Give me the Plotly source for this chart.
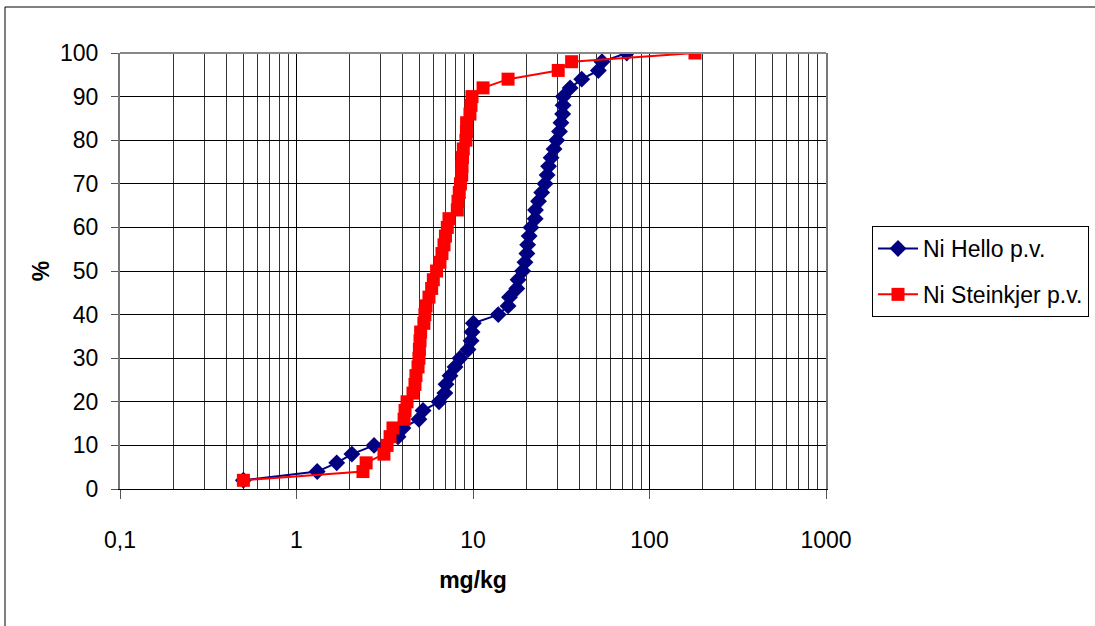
import plotly.graph_objects as go

pct = list(range(2, 101, 2))

hello_x = [0.5, 1.31, 1.69, 2.06, 2.75, 3.76, 4.01, 4.94, 5.21, 6.42,
           6.93, 7.03, 7.41, 7.91, 8.44, 9.37, 9.75, 9.87, 10.04, 13.9,
           15.8, 16.1, 17.7, 18.0, 19.1, 19.7, 20.2, 20.4, 20.8, 21.3,
           22.5, 22.6, 23.5, 24.5, 25.6, 26.3, 26.8, 27.7, 28.8, 29.8,
           30.9, 31.5, 32.2, 32.4, 32.5, 35.5, 41.3, 51.3, 53.8, 74.3]

steinkjer_x = [0.5, 2.38, 2.48, 3.13, 3.26, 3.39, 3.52, 4.07, 4.12, 4.23,
               4.57, 4.69, 4.75, 4.88, 4.94, 4.97, 5.01, 5.05, 5.27, 5.34,
               5.42, 5.63, 5.83, 5.96, 6.22, 6.50, 6.67, 6.85, 6.98, 7.15,
               7.31, 8.15, 8.22, 8.36, 8.49, 8.63, 8.66, 8.72, 8.81, 9.12,
               9.18, 9.20, 9.61, 9.74, 9.87, 11.4, 15.8, 30.4, 36.2, 181]

x_tickvals = [0.1, 1, 10, 100, 1000]
x_ticktext = ["0,1", "1", "10", "100", "1000"]
y_tickvals = list(range(0, 101, 10))

FONT = "Liberation Sans, Arial, sans-serif"

fig = go.Figure()
fig.add_trace(go.Scatter(
    x=hello_x, y=pct, mode="lines+markers", name="Ni Hello p.v.",
    legendgroup="a",
    line=dict(color="#000080", width=2),
    marker=dict(symbol="diamond", size=13, color="#000080"),
))
fig.add_trace(go.Scatter(
    x=steinkjer_x, y=pct, mode="lines+markers", name="Ni Steinkjer p.v.",
    legendgroup="b",
    line=dict(color="#FF0000", width=2),
    marker=dict(symbol="square", size=13, color="#FF0000"),
))

L, R, T, B = 120, 826, 53, 489
W, H = 1095, 626
pw, ph = R - L, B - T

fig.update_layout(
    width=W, height=H,
    margin=dict(l=L, r=W - R, t=T, b=H - B, pad=0, autoexpand=False),
    paper_bgcolor="white", plot_bgcolor="white",
    font=dict(family=FONT, size=23, color="black"),
    showlegend=True,
    legend=dict(
        x=(872 - L) / pw, y=(B - 226) / ph, xanchor="left", yanchor="top",
        bordercolor="black", borderwidth=1, bgcolor="white",
        font=dict(family=FONT, size=23, color="black"),
        itemwidth=40, tracegroupgap=13,
    ),
    xaxis=dict(
        type="log", range=[-1, 3],
        tickvals=x_tickvals, ticktext=x_ticktext,
        showgrid=True, gridcolor="black", gridwidth=1,
        minor=dict(showgrid=True, gridcolor="#333333", gridwidth=1,
                   tickvals=[m * 10 ** e for e in range(-1, 3) for m in range(2, 10)]),
        showline=True, linecolor="black", linewidth=1,
        ticks="outside", ticklen=9, tickcolor="#555555",
        ticklabelstandoff=21,
        tickfont=dict(family=FONT, size=23),
        title=dict(text="<b>mg/kg</b>", font=dict(family=FONT, size=23), standoff=20),
        zeroline=False,
    ),
    yaxis=dict(
        range=[0, 100], tickvals=y_tickvals,
        showgrid=True, gridcolor="black", gridwidth=1,
        showline=True, linecolor="#777777", linewidth=2, mirror=True,
        ticks="outside", ticklen=7, tickcolor="#555555",
        ticklabelstandoff=8,
        tickfont=dict(family=FONT, size=23),
        title=dict(text="<b>%</b>", font=dict(family=FONT, size=23), standoff=4),
        zeroline=False,
    ),
    shapes=[
        dict(type="line", xref="paper", yref="paper", x0=0, x1=1, y0=1, y1=1,
             line=dict(color="#888888", width=2)),
        dict(type="rect", xref="paper", yref="paper",
             x0=(5 - L) / pw, x1=(1110 - L) / pw,
             y0=(B - 640) / ph, y1=(B - 7) / ph,
             line=dict(color="black", width=1), layer="below"),
    ],
)

fig.write_html("out.html")
